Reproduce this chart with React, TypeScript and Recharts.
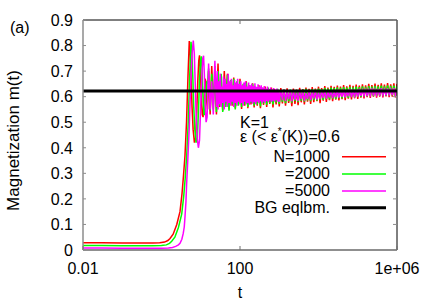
import React from 'react';
import { LineChart, Line, XAxis, YAxis, ReferenceLine } from 'recharts';

const FONT = '"Liberation Sans", Arial, Helvetica, sans-serif';

// ---- tick labels ----
const xTickValues = [0.01, 100, 1e6];
const xTickLabels = ['0.01', '100', '1e+06'];
const yTickValues = [0, 0.1, 0.2, 0.3, 0.4, 0.5, 0.6, 0.7, 0.8, 0.9];
const yTickLabels = ['0', '0.1', '0.2', '0.3', '0.4', '0.5', '0.6', '0.7', '0.8', '0.9'];

// ---- legend / annotation ----
const seriesNames = ['N=1000', '=2000', '=5000'];
const seriesColors = ['#ff0000', '#00ff00', '#ff00ff'];
const bgName = 'BG eqlbm.';
const bgEquilibrium = 0.622;

// ---- early-time transients (each series has its own sampling) ----
const redEarlyT = [0.01, 0.03, 0.1, 0.3, 0.6, 0.9, 1.2, 1.45, 1.65, 1.98, 2.45, 2.96, 3.33, 3.63, 3.97, 4.34, 4.73, 5.1, 5.4, 5.7, 6.0, 6.4, 6.9, 7.4, 7.9, 8.4, 8.9, 9.3, 9.8, 10.3, 10.9, 11.5, 12.2, 12.9, 13.5, 14.2, 14.9];
const redEarlyM = [0.028, 0.028, 0.027, 0.027, 0.027, 0.028, 0.031, 0.037, 0.045, 0.062, 0.1, 0.15, 0.22, 0.29, 0.37, 0.5, 0.68, 0.818, 0.77, 0.67, 0.56, 0.47, 0.42, 0.44, 0.54, 0.66, 0.74, 0.762, 0.7, 0.6, 0.53, 0.52, 0.6, 0.67, 0.66, 0.58, 0.55];

const greenEarlyT = [0.01, 0.03, 0.1, 0.3, 0.6, 1.0, 1.33, 1.6, 1.82, 2.19, 2.7, 3.27, 3.68, 4.01, 4.39, 4.8, 5.23, 5.64, 5.95, 6.3, 6.63, 7.07, 7.62, 8.18, 8.73, 9.28, 9.83, 10.28, 10.83, 11.38, 12.04, 12.7, 13.48, 14.25, 14.9];
const greenEarlyM = [0.018, 0.018, 0.017, 0.017, 0.017, 0.018, 0.02, 0.026, 0.034, 0.05, 0.088, 0.14, 0.21, 0.28, 0.37, 0.5, 0.68, 0.815, 0.77, 0.67, 0.56, 0.47, 0.42, 0.44, 0.54, 0.66, 0.74, 0.758, 0.7, 0.6, 0.53, 0.53, 0.6, 0.66, 0.65];

const magentaEarlyT = [0.01, 0.03, 0.1, 0.3, 0.6, 1.0, 1.5, 1.9, 2.3, 2.7, 2.96, 3.3, 3.58, 3.8, 3.97, 4.2, 4.37, 4.6, 4.8, 5.1, 5.5, 5.95, 6.45, 6.85, 7.2, 7.6, 8.1, 8.7, 9.3, 9.9, 10.6, 11.2, 11.8, 12.4, 13.0, 13.7, 14.5, 15.2];
const magentaEarlyM = [0.008, 0.008, 0.007, 0.007, 0.007, 0.007, 0.008, 0.01, 0.014, 0.02, 0.026, 0.042, 0.065, 0.09, 0.13, 0.19, 0.26, 0.33, 0.39, 0.48, 0.63, 0.76, 0.82, 0.77, 0.66, 0.54, 0.44, 0.4, 0.43, 0.55, 0.67, 0.75, 0.76, 0.68, 0.57, 0.5, 0.52, 0.62];

// ---- late-time fluctuating band (sampling times for N=1000 and N=2000) ----
const bandT = [
  15.85, 17.38, 19.05, 20.89, 22.91, 25.12, 27.54, 30.2, 33.11, 36.31, 39.81, 43.65, 47.86, 52.48, 57.54, 63.1, 69.18, 75.86, 83.18, 91.2, 100,
  109.6, 120.2, 131.8, 144.5, 158.5, 173.8, 190.5, 208.9, 229.1, 251.2, 275.4, 302, 331.1, 363.1, 398.1, 436.5, 478.6, 524.8, 575.4, 631, 691.8, 758.6, 831.8, 912, 1000,
  1096, 1202, 1318, 1445, 1585, 1738, 1905, 2089, 2291, 2512, 2754, 3020, 3311, 3631, 3981, 4365, 4786, 5248, 5754, 6310, 6918, 7586, 8318, 9120, 10000,
  10960, 12020, 13180, 14450, 15850, 17380, 19050, 20890, 22910, 25120, 27540, 30200, 33110, 36310, 39810, 43650, 47860, 52480, 57540, 63100, 69180, 75860, 83180, 91200, 100000,
  109600, 120200, 131800, 144500, 158500, 173800, 190500, 208900, 229100, 251200, 275400, 302000, 331100, 363100, 398100, 436500, 478600, 524800, 575400, 631000, 691800, 758600, 831800, 912000, 1000000,
];

const redBandM = [
  0.70, 0.53, 0.72, 0.57, 0.68, 0.53, 0.73, 0.56, 0.67, 0.545, 0.70, 0.57,
  0.69, 0.55, 0.66, 0.565, 0.675, 0.555, 0.65, 0.57, 0.67, 0.552, 0.645, 0.565,
  0.66, 0.555, 0.64, 0.57, 0.652, 0.558, 0.636, 0.565, 0.645, 0.555, 0.632, 0.568,
  0.64, 0.56, 0.628, 0.572, 0.636, 0.558, 0.63, 0.57, 0.625, 0.562, 0.634, 0.574,
  0.627, 0.565, 0.633, 0.576, 0.626, 0.563, 0.632, 0.572, 0.628, 0.567, 0.635, 0.578,
  0.63, 0.57, 0.636, 0.58, 0.631, 0.572, 0.638, 0.578, 0.632, 0.582, 0.639, 0.575,
  0.634, 0.584, 0.641, 0.579, 0.636, 0.586, 0.642, 0.582, 0.638, 0.588, 0.643, 0.585,
  0.639, 0.59, 0.645, 0.586, 0.64, 0.592, 0.646, 0.589, 0.642, 0.594, 0.647, 0.591,
  0.643, 0.596, 0.648, 0.593, 0.644, 0.598, 0.65, 0.595, 0.645, 0.6, 0.651, 0.596,
  0.646, 0.6, 0.652, 0.597, 0.647, 0.601, 0.653, 0.598, 0.648, 0.6, 0.652, 0.597,
  0.65,
];

const greenBandM = [
  0.71, 0.545, 0.69, 0.55, 0.72, 0.54, 0.70, 0.565, 0.69, 0.54, 0.67, 0.56,
  0.685, 0.545, 0.665, 0.57, 0.67, 0.55, 0.66, 0.565, 0.66, 0.56, 0.65, 0.57,
  0.655, 0.56, 0.645, 0.575, 0.65, 0.565, 0.64, 0.57, 0.642, 0.562, 0.636, 0.574,
  0.632, 0.568, 0.636, 0.576, 0.63, 0.57, 0.627, 0.578, 0.631, 0.572, 0.626, 0.58,
  0.629, 0.575, 0.625, 0.582, 0.628, 0.577, 0.624, 0.583, 0.627, 0.579, 0.626, 0.584,
  0.628, 0.58, 0.631, 0.585, 0.627, 0.582, 0.63, 0.587, 0.629, 0.584, 0.632, 0.588,
  0.63, 0.587, 0.634, 0.59, 0.632, 0.589, 0.635, 0.592, 0.633, 0.591, 0.636, 0.594,
  0.634, 0.593, 0.637, 0.596, 0.635, 0.595, 0.638, 0.598, 0.636, 0.597, 0.639, 0.6,
  0.637, 0.599, 0.64, 0.602, 0.638, 0.601, 0.641, 0.603, 0.639, 0.602, 0.642, 0.604,
  0.64, 0.603, 0.643, 0.605, 0.641, 0.604, 0.644, 0.606, 0.642, 0.605, 0.643, 0.604,
  0.642,
];

// N=5000 is sampled more densely between t=25 and t=1000
const magentaMidT = [
  15.85, 17.38, 19.05, 20.89, 22.91,
  25.12, 26.3, 27.54, 28.84, 30.2, 31.62, 33.11, 34.67, 36.31, 38.02, 39.81, 41.69, 43.65, 45.71, 47.86,
  50.12, 52.48, 54.95, 57.54, 60.26, 63.1, 66.07, 69.18, 72.44, 75.86, 79.43, 83.18, 87.1, 91.2, 95.5,
  100, 104.7, 109.6, 114.8, 120.2, 125.9, 131.8, 138, 144.5, 151.4, 158.5, 166, 173.8, 182, 190.5, 199.5,
  208.9, 218.8, 229.1, 239.9, 251.2, 263, 275.4, 288.4, 302, 316.2, 331.1, 346.7, 363.1, 380.2, 398.1,
  416.9, 436.5, 457.1, 478.6, 501.2, 524.8, 549.5, 575.4, 602.6, 631, 660.7, 691.8, 724.4, 758.6, 794.3,
  831.8, 871, 912, 955,
];
const magentaMidM = [
  0.73, 0.55, 0.66, 0.53, 0.74,
  0.56, 0.70, 0.55, 0.66, 0.57, 0.69, 0.56, 0.64, 0.575, 0.68, 0.55, 0.67, 0.58, 0.65, 0.56,
  0.69, 0.575, 0.66, 0.565, 0.67, 0.58, 0.645, 0.56, 0.665, 0.575, 0.655, 0.565, 0.67, 0.58, 0.65,
  0.57, 0.66, 0.575, 0.645, 0.565, 0.655, 0.58, 0.66, 0.57, 0.64, 0.575, 0.655, 0.568, 0.645, 0.58, 0.65,
  0.572, 0.642, 0.578, 0.652, 0.57, 0.638, 0.58, 0.648, 0.575, 0.64, 0.582, 0.645, 0.574, 0.636, 0.58,
  0.642, 0.576, 0.632, 0.583, 0.64, 0.578, 0.63, 0.585, 0.636, 0.579, 0.628, 0.584, 0.634, 0.58, 0.626,
  0.586, 0.632, 0.581, 0.627,
];
const magentaLateT = bandT.slice(45);
const magentaLateM = [
  0.58, 0.626, 0.586,
  0.628, 0.583, 0.618, 0.59, 0.626, 0.582, 0.622, 0.588, 0.616, 0.584, 0.624, 0.59,
  0.62, 0.585, 0.614, 0.591, 0.622, 0.587, 0.618, 0.593, 0.623, 0.589, 0.617, 0.592,
  0.622, 0.595, 0.626, 0.592, 0.619, 0.597, 0.625, 0.594, 0.621, 0.598, 0.627, 0.596,
  0.622, 0.599, 0.628, 0.597, 0.624, 0.601, 0.629, 0.598, 0.623, 0.602, 0.627, 0.6,
  0.63, 0.603, 0.625, 0.605, 0.631, 0.602, 0.627, 0.606, 0.632, 0.604, 0.628, 0.607,
  0.63, 0.604, 0.633, 0.607, 0.628, 0.605, 0.632, 0.609, 0.629, 0.606, 0.633, 0.608,
  0.63,
];

function toPoints(ts: number[], ms: number[]) {
  return ts.map((t, i) => ({ t, m: ms[i] }));
}

const seriesData = [
  [...toPoints(redEarlyT, redEarlyM), ...toPoints(bandT, redBandM)],
  [...toPoints(greenEarlyT, greenEarlyM), ...toPoints(bandT, greenBandM)],
  [
    ...toPoints(magentaEarlyT, magentaEarlyM),
    ...toPoints(magentaMidT, magentaMidM),
    ...toPoints(magentaLateT, magentaLateM),
  ],
];

const W = 436;
const H = 305;
const FS = 16;

const BottomTick = (props: any) => {
  const { x, y, payload } = props;
  const idx = xTickValues.indexOf(payload.value);
  return (
    <g>
      <line x1={x} x2={x} y1={y} y2={y - 4} stroke="#707070" strokeWidth={1} />
      <text x={x} y={y + 23.5} textAnchor="middle" fontSize={FS} fontFamily={FONT} fill="#000">
        {xTickLabels[idx]}
      </text>
    </g>
  );
};

const TopTick = (props: any) => {
  const { x, y } = props;
  return <line x1={x} x2={x} y1={y} y2={y + 4} stroke="#707070" strokeWidth={1} />;
};

const LeftTick = (props: any) => {
  const { x, y, payload } = props;
  const idx = yTickValues.indexOf(payload.value);
  return (
    <g>
      <line x1={x} x2={x + 3} y1={y} y2={y} stroke="#8c8c8c" strokeWidth={1} />
      <text x={x - 10} y={y + 5.8} textAnchor="end" fontSize={FS} fontFamily={FONT} fill="#000">
        {yTickLabels[idx]}
      </text>
    </g>
  );
};

const RightTick = (props: any) => {
  const { x, y } = props;
  return <line x1={x} x2={x - 4} y1={y} y2={y} stroke="#8c8c8c" strokeWidth={1} />;
};

const legendRowsY = [161.7, 179, 196, 212.7];

export default function App() {
  return (
    <div style={{ position: 'absolute', left: 0, top: 0, width: W, height: H, background: '#fff' }}>
      <LineChart width={W} height={H} margin={{ top: 19, right: 38, bottom: 0, left: 0 }}>
        <XAxis
          xAxisId={0}
          dataKey="t"
          type="number"
          scale="log"
          domain={[0.01, 1e6]}
          allowDataOverflow
          ticks={xTickValues}
          interval={0}
          height={55}
          tickSize={0}
          tickMargin={0}
          tickLine={false}
          axisLine={{ stroke: '#6a6a6a', strokeWidth: 1.5 }}
          tick={BottomTick}
        />
        <XAxis
          xAxisId="top"
          orientation="top"
          dataKey="t"
          type="number"
          scale="log"
          domain={[0.01, 1e6]}
          allowDataOverflow
          ticks={[100]}
          interval={0}
          height={1}
          tickSize={0}
          tickMargin={0}
          tickLine={false}
          axisLine={{ stroke: '#000', strokeWidth: 1 }}
          tick={TopTick}
        />
        <YAxis
          yAxisId={0}
          type="number"
          domain={[0, 0.9]}
          allowDataOverflow
          ticks={yTickValues}
          interval={0}
          width={83}
          tickSize={0}
          tickMargin={0}
          tickLine={false}
          axisLine={{ stroke: '#8c8c8c', strokeWidth: 1.5 }}
          tick={LeftTick}
        />
        <YAxis
          yAxisId="right"
          orientation="right"
          type="number"
          domain={[0, 0.9]}
          allowDataOverflow
          ticks={yTickValues}
          interval={0}
          width={1}
          tickSize={0}
          tickMargin={0}
          tickLine={false}
          axisLine={{ stroke: '#000', strokeWidth: 1 }}
          tick={RightTick}
        />
        {seriesData.map((d, i) => (
          <Line
            key={seriesNames[i]}
            data={d}
            dataKey="m"
            type="linear"
            stroke={seriesColors[i]}
            strokeWidth={1.5}
            dot={false}
            activeDot={false}
            isAnimationActive={false}
          />
        ))}
        <ReferenceLine y={bgEquilibrium} stroke="#000" strokeWidth={3} />
      </LineChart>
      <svg
        width={W}
        height={H}
        style={{ position: 'absolute', left: 0, top: 0, pointerEvents: 'none' }}
        fontFamily={FONT}
      >
        <text x={10} y={32.5} fontSize={FS} fill="#000">(a)</text>
        <text
          x={0}
          y={0}
          fontSize={17}
          fill="#000"
          textAnchor="middle"
          transform="translate(19,140.5) rotate(-90)"
        >
          Magnetization m(t)
        </text>
        <text x={240} y={298} fontSize={FS} textAnchor="middle" fill="#000">t</text>
        <text x={240} y={127.5} fontSize={FS} fill="#000">K=1</text>
        <text x={240} y={142} fontSize={FS} fill="#000">
          ε (&lt; ε
          <tspan fontSize={10} dy={-7}>*</tspan>
          <tspan dy={7}>(K))=0.6</tspan>
        </text>
        {seriesNames.map((name, i) => (
          <g key={name}>
            <text x={330} y={legendRowsY[i]} fontSize={FS} textAnchor="end" fill="#000">{name}</text>
            <line x1={342} x2={386} y1={legendRowsY[i] - 5} y2={legendRowsY[i] - 5} stroke={seriesColors[i]} strokeWidth={1.4} />
          </g>
        ))}
        <text x={330} y={legendRowsY[3]} fontSize={FS} textAnchor="end" fill="#000">{bgName}</text>
        <line x1={342} x2={386} y1={legendRowsY[3] - 5} y2={legendRowsY[3] - 5} stroke="#000" strokeWidth={3} />
      </svg>
    </div>
  );
}
